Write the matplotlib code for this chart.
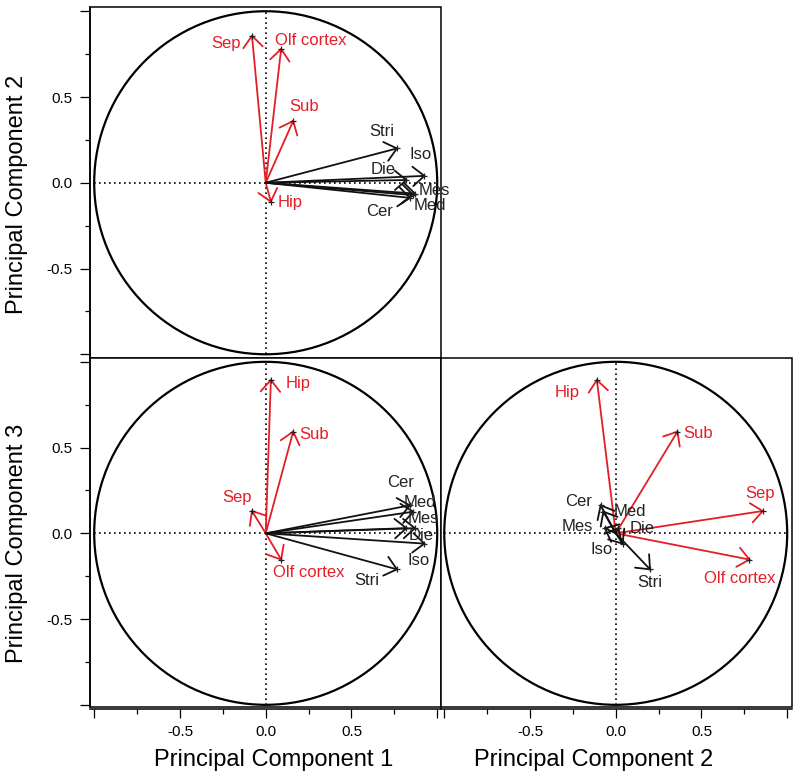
import numpy as np
import matplotlib
matplotlib.use('Agg')
import matplotlib.pyplot as plt
from matplotlib.patches import Circle, Rectangle
from matplotlib.ticker import FixedLocator, FuncFormatter

plt.rcParams['font.family'] = ['Liberation Sans', 'DejaVu Sans']
plt.rcParams['axes.unicode_minus'] = False

# loadings
names = ['Sep', 'Olf cortex', 'Sub', 'Hip', 'Stri', 'Iso', 'Die', 'Mes', 'Med', 'Cer']
groups = ['red', 'red', 'red', 'red', 'black', 'black', 'black', 'black', 'black', 'black']
pc1 = [-0.08, 0.09, 0.16, 0.03, 0.765, 0.925, 0.82, 0.87, 0.86, 0.84]
pc2 = [0.857, 0.78, 0.36, -0.11, 0.20, 0.04, 0.016, -0.063, -0.072, -0.088]
pc3 = [0.13, -0.153, 0.593, 0.894, -0.21, -0.06, 0.03, 0.03, 0.126, 0.163]

major_ticks = [-1.0, -0.5, 0.0, 0.5, 1.0]
minor_ticks = [-0.75, -0.25, 0.25, 0.75]

colors = {'red': '#e41e26', 'black': '#111111'}
HEAD_LEN = 0.088
HEAD_ANGLE = 40

# label offsets in pixels (dx, dy, ha) for each panel
offs12 = {'Sep': (-11, -8, 'right'), 'Olf cortex': (-6, 8, 'left'), 'Sub': (-4, 15, 'left'),
          'Hip': (7, -1, 'left'), 'Stri': (-15, 17, 'center'), 'Iso': (-4, 21, 'center'),
          'Die': (-23, 11, 'center'), 'Mes': (4, 3, 'left'), 'Med': (0, -10, 'left'),
          'Cer': (-30, -14, 'center')}
offs13 = {'Sep': (0, 14, 'right'), 'Olf cortex': (-8, -13, 'left'), 'Sub': (6, -3, 'left'),
          'Hip': (15, -4, 'left'), 'Stri': (-30, -11, 'center'), 'Iso': (-17, -17, 'left'),
          'Die': (2, -7, 'left'), 'Mes': (-7, 10, 'left'), 'Med': (-10, 9, 'left'),
          'Cer': (-9, 23, 'center')}
offs23 = {'Sep': (-3, 18, 'center'), 'Olf cortex': (-10, -19, 'center'), 'Sub': (6, -2, 'left'),
          'Hip': (-17, -13, 'right'), 'Stri': (0, -13, 'center'), 'Iso': (-10, -6, 'right'),
          'Die': (11, 0, 'left'), 'Mes': (-12, 2, 'right'), 'Med': (10, 0, 'left'),
          'Cer': (-9, 4, 'right')}

W, H = 800, 780
fig = plt.figure(figsize=(W / 100, H / 100), dpi=100)


def px_axes(x0, y0, x1, y1):
    return fig.add_axes([x0 / W, 1 - y1 / H, (x1 - x0) / W, (y1 - y0) / H])


ax12 = px_axes(90, 7.3, 441, 357.7)
ax13 = px_axes(90, 357.7, 441, 706.7)
ax23 = px_axes(441, 357.7, 792, 706.7)

ax12.set_xlim(-1.0245, 1.022)
ax12.set_ylim(-1.020, 1.023)
ax13.set_xlim(-1.0245, 1.022)
ax13.set_ylim(-1.011, 1.024)
ax23.set_xlim(-1.019, 1.028)
ax23.set_ylim(-1.011, 1.024)

fmt = FuncFormatter(lambda v, p: '' if abs(v) > 0.9 else '%.1f' % v)


def draw_panel(ax, xs, ys, offs):
    ax.add_patch(Circle((0, 0), 1.0, fill=False, lw=1.6, color='k'))
    ax.plot([-1, 1], [0, 0], color='k', lw=1.2, ls=(0, (1, 2)))
    ax.plot([0, 0], [-1, 1], color='k', lw=1.2, ls=(0, (1, 2)))
    for name, g, x, y in zip(names, groups, xs, ys):
        c = colors[g]
        ax.plot([0, x], [0, y], color=c, lw=1.3, solid_capstyle='round')
        ang = np.arctan2(y, x)
        for s in (1, -1):
            a = ang + np.pi + s * np.radians(HEAD_ANGLE)
            ax.plot([x, x + HEAD_LEN * np.cos(a)], [y, y + HEAD_LEN * np.sin(a)],
                    color=c, lw=1.3, solid_capstyle='round')
        ax.plot(x, y, '+', color='#222222', ms=5, mew=0.9)
        dx, dy, ha = offs[name]
        ax.annotate(name, (x, y), xytext=(dx, dy), textcoords='offset pixels',
                    ha=ha, va='center', fontsize=12,
                    color=c if g == 'red' else '#222222', annotation_clip=False)
    for sp in ax.spines.values():
        sp.set_visible(False)
    ax.add_patch(Rectangle((0, 0), 1, 1, transform=ax.transAxes, fill=False,
                           lw=1.1, edgecolor='k', clip_on=False))
    ax.set_xticks([])
    ax.set_yticks([])


def left_axis(ax):
    ax.spines['left'].set_visible(True)
    ax.spines['left'].set_linewidth(1.1)
    ax.yaxis.set_major_locator(FixedLocator(major_ticks))
    ax.yaxis.set_minor_locator(FixedLocator(minor_ticks))
    ax.yaxis.set_major_formatter(fmt)
    ax.tick_params(axis='y', which='major', direction='out', length=7.2, width=0.9,
                   pad=5.5, labelsize=11)
    ax.tick_params(axis='y', which='minor', direction='out', length=3.6, width=0.9)


def bottom_axis(ax):
    ax.spines['bottom'].set_visible(True)
    ax.spines['bottom'].set_linewidth(1.1)
    ax.spines['bottom'].set_position(('outward', 2))
    ax.xaxis.set_major_locator(FixedLocator(major_ticks))
    ax.xaxis.set_minor_locator(FixedLocator(minor_ticks))
    ax.xaxis.set_major_formatter(fmt)
    ax.tick_params(axis='x', which='major', direction='out', length=6.5, width=0.9,
                   pad=5, labelsize=11)
    ax.tick_params(axis='x', which='minor', direction='out', length=3.6, width=0.9)


draw_panel(ax12, pc1, pc2, offs12)
draw_panel(ax13, pc1, pc3, offs13)
draw_panel(ax23, pc2, pc3, offs23)

left_axis(ax12)
left_axis(ax13)
bottom_axis(ax13)
bottom_axis(ax23)

ax13.text(0.524, -0.170, 'Principal Component 1', transform=ax13.transAxes,
          ha='center', va='baseline', fontsize=17)
ax23.text(0.436, -0.170, 'Principal Component 2', transform=ax23.transAxes,
          ha='center', va='baseline', fontsize=17)
ax12.text(-0.208, 0.467, 'Principal Component 2', transform=ax12.transAxes,
          ha='center', va='center', rotation=90, fontsize=17)
ax13.text(-0.208, 0.467, 'Principal Component 3', transform=ax13.transAxes,
          ha='center', va='center', rotation=90, fontsize=17)

fig.savefig('out.png', dpi=100)
